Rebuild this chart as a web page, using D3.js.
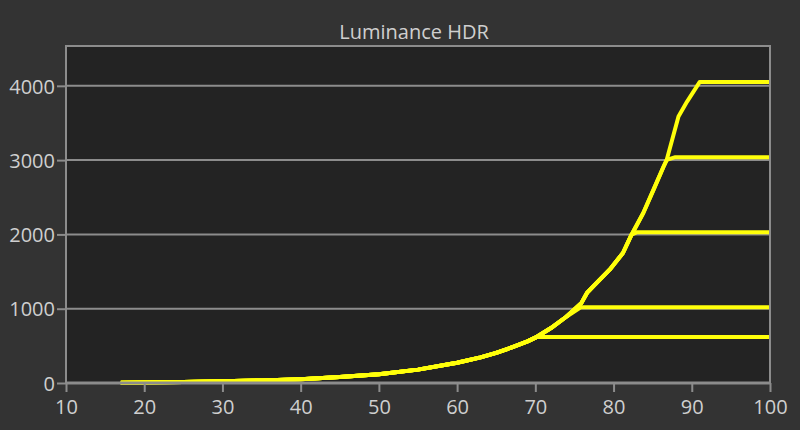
<!DOCTYPE html>
<html>
<head>
<meta charset="utf-8">
<script src="https://cdn.jsdelivr.net/npm/d3@7"></script>
<style>
  html, body { margin: 0; padding: 0; background: #333333; }
  svg { display: block; }
  text { font-family: "Open Sans", "Noto Sans", sans-serif; }
</style>
</head>
<body>
<svg id="chart" width="800" height="430"></svg>
<script>
// ---- data ----
const title = "Luminance HDR";
const xTicks = [10, 20, 30, 40, 50, 60, 70, 80, 90, 100];
const yTicks = [0, 1000, 2000, 3000, 4000];
// tracked PQ curve (stimulus %, cd/m²)
const curveX = [17, 20, 25, 30, 35, 40, 45, 50, 55, 60, 63, 65, 67, 69, 70, 72, 74, 75.9, 76.6, 77.4, 79.5, 81.2, 82.3, 83.8, 85.1, 86.4, 86.8, 88.3, 89.4];
const curveY = [2, 6, 12, 22, 35, 52, 80, 118, 180, 272, 345, 405, 480, 560, 610, 740, 895, 1078, 1212, 1300, 1525, 1750, 1996, 2288, 2600, 2914, 3004, 3586, 3788];
// clipping points of each tone-mapped series (stimulus % where clip starts, clipped level)
const clipX = [70.2, 75.8, 83.0, 87.9, 91.0];
const clipY = [620, 1020, 2030, 3040, 4050];
const xEnd = 100;

// ---- layout ----
const W = 800, H = 430;
const m = { left: 66, right: 30, top: 46, bottom: 47 };
const svg = d3.select("#chart");
const x = d3.scaleLinear().domain([10, 100]).range([m.left, W - m.right]);
const y = d3.scaleLinear().domain([0, 4536]).range([H - m.bottom, m.top]);

const gridCol = "#8c8c8c";
const textCol = "#cfcfcf";

// plot background
svg.append("rect")
  .attr("x", x(10)).attr("y", y(4536))
  .attr("width", x(100) - x(10)).attr("height", y(0) - y(4536))
  .attr("fill", "#232323");

// horizontal grid lines
svg.append("g")
  .selectAll("line").data(yTicks.filter(d => d > 0)).join("line")
  .attr("x1", x(10)).attr("x2", x(100))
  .attr("y1", d => y(d)).attr("y2", d => y(d))
  .attr("stroke", gridCol).attr("stroke-width", 2);

// series: tracked curve up to the clip point, then flat at the clip level
const series = clipX.map((cx, i) => {
  const pts = [];
  curveX.forEach((vx, j) => { if (vx < cx && curveY[j] <= clipY[i]) pts.push([vx, curveY[j]]); });
  pts.push([cx, clipY[i]]);
  pts.push([xEnd, clipY[i]]);
  return pts;
});
const line = d3.line().x(d => x(d[0])).y(d => y(d[1]));
svg.append("g")
  .selectAll("path").data(series).join("path")
  .attr("d", line)
  .attr("fill", "none")
  .attr("stroke", "#ffff0a")
  .attr("stroke-width", 4)
  .attr("stroke-linejoin", "round");

// frame (left, top, right)
svg.append("path")
  .attr("d", `M${x(10)},${y(0)}V${y(4536)}H${x(100)}V${y(0)}`)
  .attr("fill", "none").attr("stroke", gridCol).attr("stroke-width", 2);

// axes
const xAxis = svg.append("g")
  .attr("transform", `translate(0,${y(0)})`)
  .call(d3.axisBottom(x).tickValues(xTicks).tickSize(9).tickPadding(8).tickFormat(d3.format("d")));
const yAxis = svg.append("g")
  .attr("transform", `translate(${x(10)},0)`)
  .call(d3.axisLeft(y).tickValues(yTicks).tickSize(9).tickPadding(2).tickFormat(d3.format("d")));

[xAxis, yAxis].forEach(g => {
  g.selectAll(".tick line").attr("stroke", gridCol).attr("stroke-width", 2);
  g.selectAll(".tick text").attr("fill", textCol).attr("font-size", 20)
    .attr("font-family", "'Open Sans', 'Noto Sans', sans-serif");
});
xAxis.select(".domain").attr("stroke", gridCol).attr("stroke-width", 3).attr("d", `M${x(10)},0H${x(100)}`);
yAxis.select(".domain").remove();
yAxis.selectAll(".tick text").attr("dy", "0.36em");

// title
svg.append("text")
  .attr("x", 414).attr("y", 39)
  .attr("text-anchor", "middle")
  .attr("fill", textCol)
  .attr("font-size", 20)
  .text(title);
</script>
</body>
</html>
